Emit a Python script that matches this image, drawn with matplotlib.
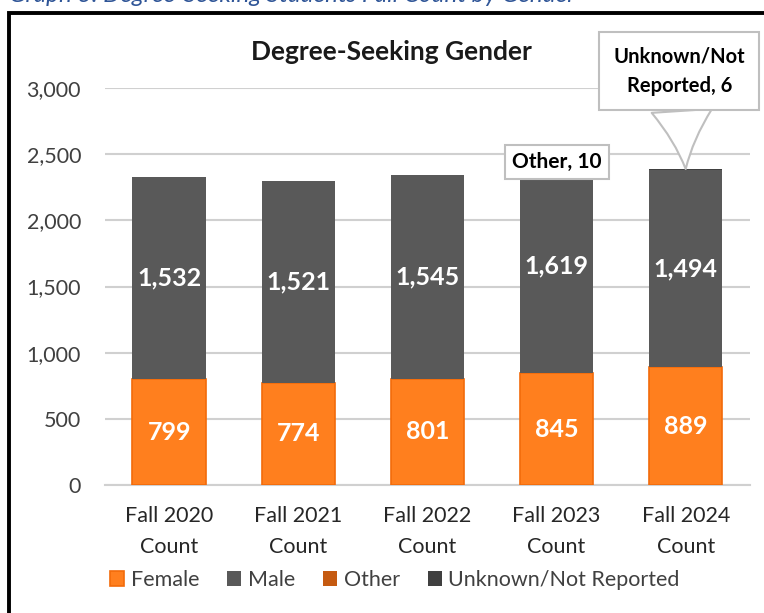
import numpy as np
import matplotlib.pyplot as plt
from matplotlib.patches import Rectangle
from matplotlib.ticker import FuncFormatter

plt.rcParams['font.family'] = ['Lato', 'DejaVu Sans']

categories = ['Fall 2020\nCount', 'Fall 2021\nCount', 'Fall 2022\nCount',
              'Fall 2023\nCount', 'Fall 2024\nCount']
female = [799, 774, 801, 845, 889]
male = [1532, 1521, 1545, 1619, 1494]
other = [0, 0, 0, 10, 0]
unknown = [0, 0, 0, 0, 6]

c_female = '#FF7F1E'
c_male = '#595959'
c_other = '#C55A11'
c_unknown = '#404040'

fig = plt.figure(figsize=(7.64, 6.13), dpi=100)
ax = fig.add_axes([0.137, 0.209, 0.845, 0.647])

x = np.arange(len(categories))
w = 0.57
f = np.array(female)
m = np.array(male)
o = np.array(other)
u = np.array(unknown)

ax.bar(x, f, w, color=c_female, edgecolor='#F26B0A', linewidth=1.2, label='Female', zorder=3)
ax.bar(x, m, w, bottom=f, color=c_male, label='Male', zorder=3)
ax.bar(x, o, w, bottom=f + m, color=c_other, label='Other', zorder=3)
ax.bar(x, u, w, bottom=f + m + o, color=c_unknown, label='Unknown/Not Reported', zorder=3)

for i in range(len(x)):
    ax.text(x[i], f[i] / 2, f'{f[i]:,}', ha='center', va='center', color='white',
            fontsize=18, fontweight='bold', zorder=4)
    ax.text(x[i], f[i] + m[i] / 2, f'{m[i]:,}', ha='center', va='center', color='white',
            fontsize=18, fontweight='bold', zorder=4)

# callouts
ax.annotate(f'Other, {other[3]}', xy=(x[3], f[3] + m[3] + o[3]), xytext=(x[3], 2441),
            ha='center', va='center', fontsize=15, fontweight='bold', zorder=5,
            bbox=dict(boxstyle='square,pad=0.35', fc='white', ec='#BFBFBF', lw=1.5))
ax.annotate(f'Unknown/Not\nReported, {unknown[4]}', xy=(x[4], f[4] + m[4] + o[4] + u[4]),
            xytext=(x[4] - 0.05, 3129), ha='center', va='center', fontsize=14.5,
            fontweight='bold', zorder=5, linespacing=1.6,
            bbox=dict(boxstyle='square,pad=0.7', fc='white', ec='#BFBFBF', lw=1.5),
            arrowprops=dict(arrowstyle='wedge,tail_width=3.0,shrink_factor=0.4',
                            fc='white', ec='#BFBFBF', lw=1.5, shrinkA=0, shrinkB=0))

ax.set_ylim(0, 3000)
ax.set_xlim(-0.5, 4.5)
ax.set_yticks(np.arange(0, 3001, 500))
ax.yaxis.set_major_formatter(FuncFormatter(lambda v, p: f'{int(v):,}'))
ax.set_xticks(x)
ax.set_xticklabels(categories, fontsize=15.5, color='#262626', linespacing=1.7)
ax.tick_params(axis='y', labelsize=15.5, labelcolor='#404040', length=0, pad=17)
ax.tick_params(axis='x', length=0, pad=15)
ax.grid(axis='y', color='#D0D0D0', lw=1.5, zorder=0)
for s in ['top', 'right', 'left']:
    ax.spines[s].set_visible(False)
ax.spines['bottom'].set_color('#D0D0D0')
ax.spines['bottom'].set_linewidth(1.5)

fig.text(0.512, 0.915, 'Degree-Seeking Gender', ha='center', va='center',
         fontsize=19, fontweight='bold', color='#1a1a1a')

fig.legend(loc='center', bbox_to_anchor=(0.517, 0.054), ncol=4, frameon=False,
           fontsize=15.5, handlelength=0.65, handleheight=0.65, handletextpad=0.3,
           columnspacing=1.3, labelcolor='#404040')

# frame and clipped caption
fig.patches.append(Rectangle((0.012, -0.2), 1.2, 0.2 + 0.979, transform=fig.transFigure,
                             fill=False, ec='black', lw=2.8))
fig.text(0.012, 0.9965, 'Graph 3: Degree-Seeking Students Fall Count by Gender',
         fontsize=17.5, style='italic', color='#2F5597', va='baseline')

fig.savefig('out.png', dpi=100)
